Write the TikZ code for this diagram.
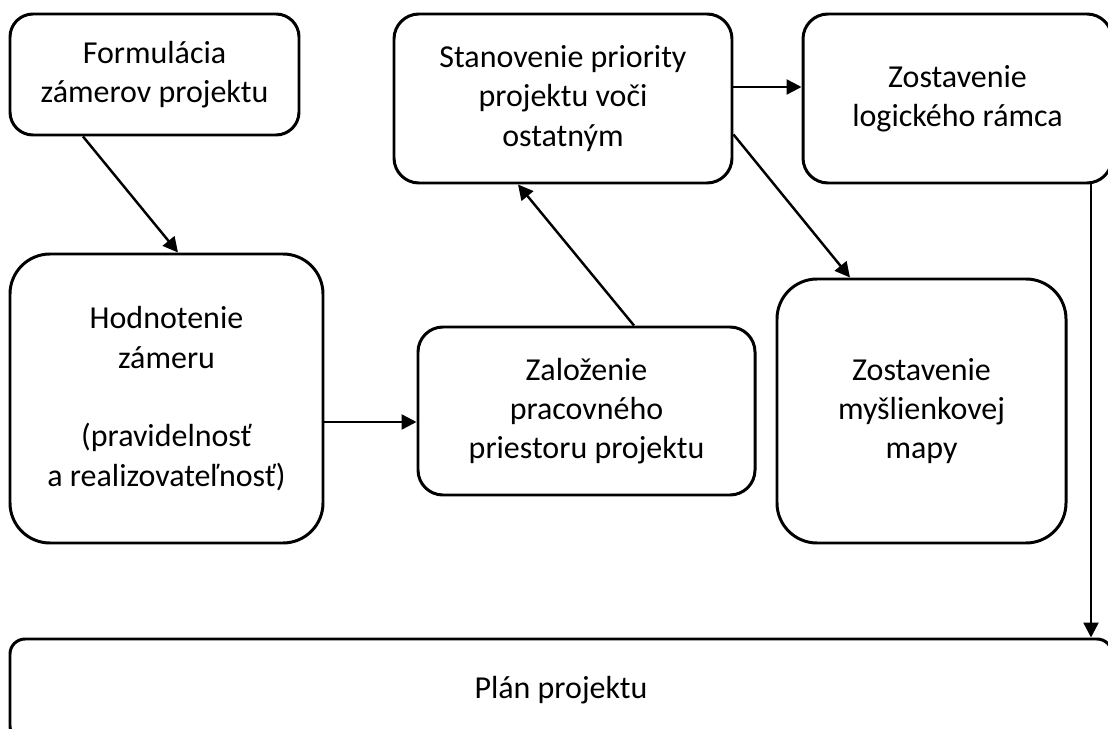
\documentclass[tikz,border=0pt]{standalone}
\usepackage{fontspec}
\setmainfont{Carlito}
\usetikzlibrary{arrows.meta}

\begin{document}
\begin{tikzpicture}[
    box/.style={draw, line width=1.7pt, align=center, inner sep=0pt,
                font=\fontsize{18.2}{22.4}\selectfont},
    arr/.style={line width=1.4pt, -{Triangle[length=0.3cm, width=0.3cm]}}]
  \useasboundingbox (0,0) rectangle (22.16,-14.58);
  \node[box, rounded corners=0.46cm, minimum width=5.78cm, minimum height=2.42cm]
    (form) at (3.09,-1.49) {Formulácia\\zámerov projektu};
  \node[box, rounded corners=0.5cm, minimum width=6.76cm, minimum height=3.38cm]
    (stan) at (11.26,-1.97) {Stanovenie priority\\projektu voči\\ostatným};
  \node[box, rounded corners=0.5cm, minimum width=6.18cm, minimum height=3.38cm]
    (logic) at (19.15,-1.97) {Zostavenie\\logického rámca};
  \node[box, rounded corners=0.8cm, minimum width=6.26cm, minimum height=5.78cm]
    (hodn) at (3.33,-7.97) {Hodnotenie\\zámeru\\[22.4pt](pravidelnosť\\a realizovateľnosť)};
  \node[box, rounded corners=0.5cm, minimum width=6.74cm, minimum height=3.36cm]
    (zal) at (11.73,-8.22) {Založenie\\pracovného\\priestoru projektu};
  \node[box, rounded corners=0.8cm, minimum width=5.78cm, minimum height=5.28cm]
    (mysl) at (18.43,-8.22) {Zostavenie\\myšlienkovej\\mapy};
  \node[box, rounded corners=0.3cm, minimum width=22.04cm, minimum height=2.04cm]
    (plan) at (11.22,-13.8) {Plán projektu};

  \draw[arr] ([xshift=-1.43cm]form.south) -- ([xshift=0.23cm]hodn.north);
  \draw[arr] ([yshift=-0.22cm]zal.west -| hodn.east) -- ([yshift=-0.22cm]zal.west);
  \draw[arr] ([xshift=0.95cm]zal.north) -- ([xshift=-0.9cm]stan.south);
  \draw[arr] ([yshift=0.23cm]stan.east) -- ([yshift=0.23cm]stan.east -| logic.west);
  \draw[arr] ([yshift=-0.72cm]stan.east) -- ([xshift=-1.43cm]mysl.north);
  \draw[arr] ([xshift=2.67cm]logic.south) -- ([xshift=2.67cm]logic.south |- plan.north);
\end{tikzpicture}
\end{document}
